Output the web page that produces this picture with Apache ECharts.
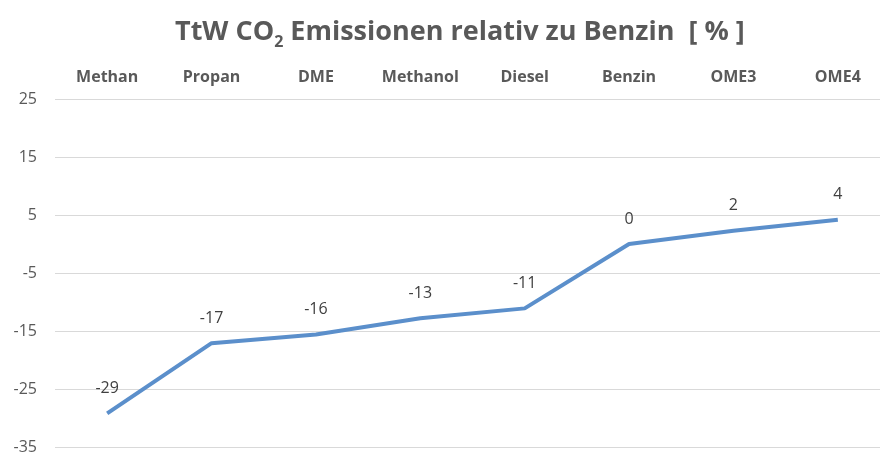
<!DOCTYPE html>
<html>
<head>
<meta charset="utf-8">
<script src="https://cdn.jsdelivr.net/npm/echarts@6/dist/echarts.min.js"></script>
<style>
html,body{margin:0;padding:0;background:#fff;}
#main{width:880px;height:454px;}
</style>
</head>
<body>
<div id="main"></div>
<script>
var categories = ['Methan', 'Propan', 'DME', 'Methanol', 'Diesel', 'Benzin', 'OME3', 'OME4'];
var values = [-29.2, -17.1, -15.6, -12.8, -11.1, 0, 2.3, 4.2];
var yMin = -35, yMax = 25, yStep = 10;

var fontFam = '"Open Sans", "Liberation Sans", sans-serif';
var chart = echarts.init(document.getElementById('main'));

var option = {
  backgroundColor: '#fff',
  animation: false,
  title: {
    text: '{a|TtW CO}{s|2}{a| Emissionen relativ zu Benzin  [ % ]}',
    left: 170,
    top: 9,
    textStyle: {
      rich: {
        a: { fontFamily: fontFam, fontSize: 27, fontWeight: 'bold', color: '#595959', lineHeight: 36 },
        s: { fontFamily: fontFam, fontSize: 16, fontWeight: 'bold', color: '#595959', verticalAlign: 'bottom', lineHeight: 36, padding: [14, 0, 0, 0] }
      }
    }
  },
  grid: { left: 55, width: 835, top: 99, bottom: 7, outerBoundsMode: 'none', containLabel: false },
  xAxis: {
    type: 'category',
    position: 'top',
    data: categories,
    boundaryGap: true,
    axisLine: { show: false },
    axisTick: { show: false },
    axisLabel: { margin: 14, fontFamily: fontFam, fontSize: 16, fontWeight: 'bold', color: '#595959', interval: 0 }
  },
  yAxis: {
    type: 'value',
    min: yMin,
    max: yMax,
    interval: yStep,
    axisLine: { show: false },
    axisTick: { show: false },
    axisLabel: { margin: 18, fontFamily: fontFam, fontSize: 16, color: '#595959' },
    splitLine: { lineStyle: { color: '#d9d9d9', width: 1 } }
  },
  series: [{
    type: 'line',
    data: values,
    symbol: 'circle',
    symbolSize: 2,
    showSymbol: true,
    itemStyle: { color: 'rgba(0,0,0,0)' },
    lineStyle: { color: '#5b8fcb', width: 4 },
    label: {
      show: true,
      position: 'top',
      distance: 16,
      fontFamily: fontFam,
      fontSize: 16,
      color: '#404040',
      formatter: function (p) { return Math.round(p.value); }
    }
  }]
};

chart.setOption(option);
</script>
</body>
</html>
